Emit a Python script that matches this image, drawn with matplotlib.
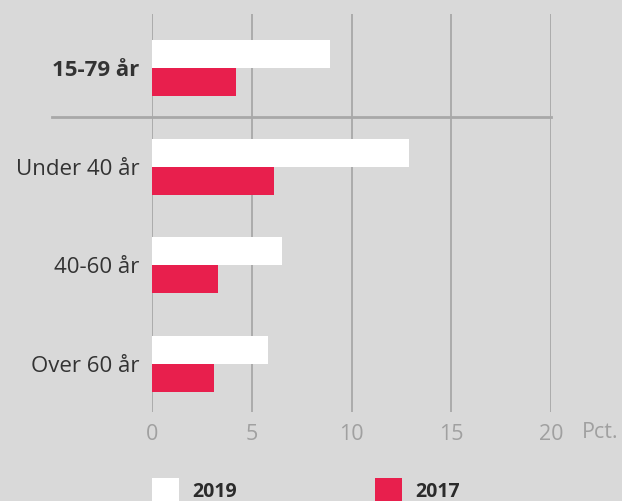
import matplotlib
matplotlib.use("Agg")
import matplotlib.pyplot as plt
from matplotlib.patches import Rectangle
import numpy as np

plt.rcParams["font.family"] = ["Open Sans", "DejaVu Sans"]

# Data
categories = ["15-79 år", "Under 40 år", "40-60 år", "Over 60 år"]
values_2019 = [8.9, 12.9, 6.5, 5.8]
values_2017 = [4.2, 6.1, 3.3, 3.1]
xticks = [0, 5, 10, 15, 20]

bg = "#d9d9d9"
red = "#e81f4d"
grid_color = "#a8a8a8"

fig = plt.figure(figsize=(6.22, 5.01), dpi=100, facecolor=bg)
ax = fig.add_axes([152 / 622, 1 - 412 / 501, (551 - 152) / 622, (412 - 14) / 501])
ax.set_facecolor(bg)

y = np.arange(len(categories))
h = 0.284
ax.barh(y - h / 2, values_2019, height=h, color="white", zorder=3)
ax.barh(y + h / 2, values_2017, height=h, color=red, zorder=3)

ax.set_xlim(0, 20)
ax.set_ylim(3.485, -0.547)

for x in xticks:
    ax.axvline(x, color=grid_color, lw=1.3, zorder=1)
ax.plot([-5, 20], [0.5, 0.5], color=grid_color, lw=2.0, clip_on=False, zorder=2)

for s in ax.spines.values():
    s.set_visible(False)

ax.set_xticks(xticks)
ax.set_xticklabels([str(t) for t in xticks], fontsize=15.5, color="#a0a0a0")
ax.tick_params(axis="x", length=0, pad=9)
ax.set_yticks(y)
ax.set_yticklabels(categories, fontsize=16, color="#333333")
ax.tick_params(axis="y", length=0, pad=9)
ax.get_yticklabels()[0].set_fontweight("bold")

fig.text(582 / 622, 1 - 432 / 501, "Pct.", fontsize=15.5, color="#a0a0a0", va="center", ha="left")

# Legend
for x0, label, col in [(152, "2019", "white"), (375, "2017", red)]:
    fig.patches.append(Rectangle((x0 / 622, 0), 27 / 622, 23 / 501, transform=fig.transFigure,
                                 facecolor=col, edgecolor="none"))
    fig.text((x0 + 40) / 622, 1 - 492 / 501, label, fontsize=14, fontweight="bold",
             color="#2b2b2b", va="center", ha="left")

fig.savefig("out.png", dpi=100, facecolor=bg)
